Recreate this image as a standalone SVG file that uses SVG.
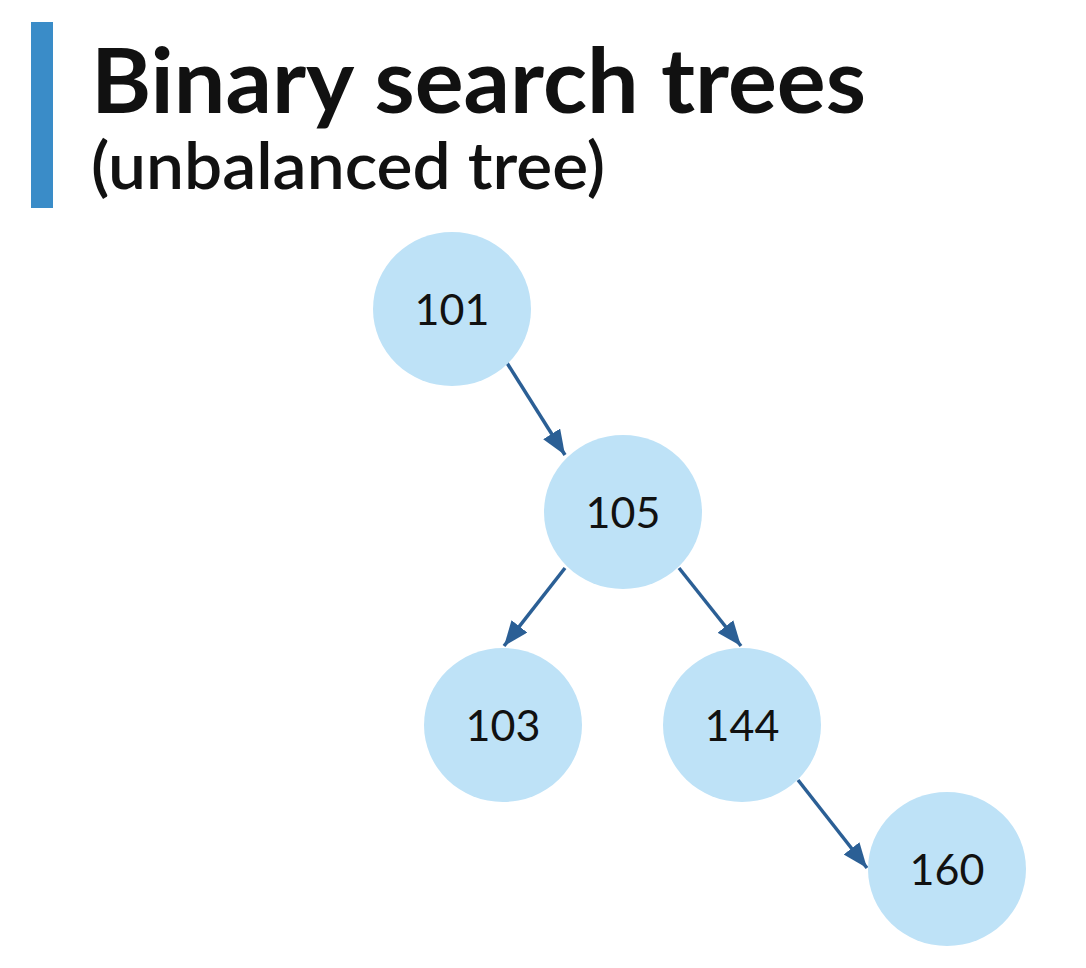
<svg xmlns="http://www.w3.org/2000/svg" width="1086" height="968" viewBox="0 0 1086 968">
<style>
.node{fill:#bee2f7}
.lbl{font-family:Lato,"Open Sans","Liberation Sans",sans-serif;font-size:43px;fill:#111;text-anchor:middle}
.edge{stroke:#2b5f95;stroke-width:3.5;fill:none}
</style>
<defs>
<marker id="ah" markerUnits="userSpaceOnUse" markerWidth="26" markerHeight="22" refX="25" refY="10" orient="auto">
<path d="M0,0 L25,10 L0,20 Z" fill="#2b5f95"/>
</marker>
</defs>
<rect width="1086" height="968" fill="#ffffff"/>
<g id="title">
<rect x="31" y="22" width="22" height="186" fill="#3a8cc8"/>
<text x="91" y="113" font-family="Lato,'Open Sans','Liberation Sans',sans-serif" font-weight="700" font-size="90" fill="#111" textLength="775" lengthAdjust="spacingAndGlyphs">Binary search trees</text>
<text x="91" y="189" font-family="Lato,'Open Sans','Liberation Sans',sans-serif" font-weight="600" font-size="66" fill="#111" textLength="514" lengthAdjust="spacingAndGlyphs">(unbalanced tree)</text>
</g>
<g id="connectors">
<line class="edge" x1="507" y1="363" x2="565" y2="455" marker-end="url(#ah)"/>
<line class="edge" x1="565" y1="568" x2="504" y2="646" marker-end="url(#ah)"/>
<line class="edge" x1="679" y1="568" x2="741" y2="646" marker-end="url(#ah)"/>
<line class="edge" x1="798" y1="780" x2="867" y2="868" marker-end="url(#ah)"/>
</g>
<g id="n101"><ellipse class="node" cx="452" cy="309" rx="79" ry="77"/><text class="lbl" x="452" y="325">101</text></g>
<g id="n105"><ellipse class="node" cx="623" cy="512" rx="79" ry="77"/><text class="lbl" x="623" y="528">105</text></g>
<g id="n103"><ellipse class="node" cx="503" cy="725" rx="79" ry="77"/><text class="lbl" x="503" y="741">103</text></g>
<g id="n144"><ellipse class="node" cx="742" cy="725" rx="79" ry="77"/><text class="lbl" x="742" y="741">144</text></g>
<g id="n160"><ellipse class="node" cx="947" cy="869" rx="79" ry="77"/><text class="lbl" x="947" y="885">160</text></g>
</svg>
